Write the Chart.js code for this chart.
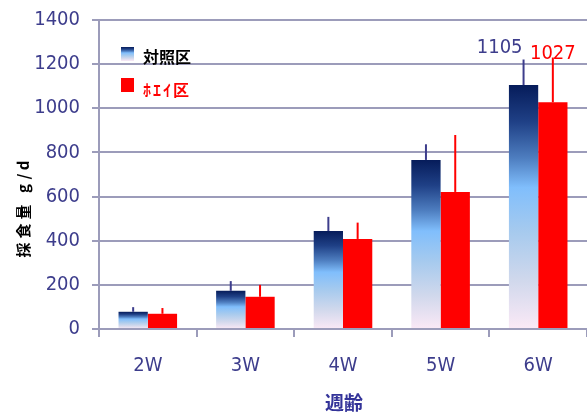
<!DOCTYPE html>
<html>
<head>
<meta charset="utf-8">
<script src="https://cdn.jsdelivr.net/npm/chart.js@4.4.0/dist/chart.umd.min.js"></script>
<style>
  html, body { margin: 0; padding: 0; background: #fff; }
  canvas { display: block; }
</style>
</head>
<body>
<canvas id="feedChart" width="587" height="414"></canvas>
<script>
// weekly feed intake (g/d), mean and SD
const weeks = ['2W', '3W', '4W', '5W', '6W'];
const controlMeans = [78, 173, 444, 766, 1105];
const controlSD = [21, 44, 64, 71, 116];
const wheyMeans = [69, 146, 408, 621, 1027];
const wheySD = [26, 54, 74, 258, 203];
const yTicks = [0, 200, 400, 600, 800, 1000, 1200, 1400];
const seriesNames = ['対照区', 'ﾎｴｲ区'];
const yTitle = '採食量 g/d';
const xTitle = '週齢';

const navy = '#3d3d8c';
const red = '#ff0000';
const gridColor = '#9c9cba';
const numFont = 'Tahoma, "DejaVu Sans Condensed", "DejaVu Sans", sans-serif';
const jpFont = '"Noto Sans CJK JP", sans-serif';

function blueGradient(ctx, top, bottom) {
  const g = ctx.createLinearGradient(0, top, 0, bottom);
  g.addColorStop(0, '#061c5a');
  g.addColorStop(0.15, '#1f4086');
  g.addColorStop(0.3, '#4e7ec0');
  g.addColorStop(0.42, '#80befc');
  g.addColorStop(0.6, '#a6caee');
  g.addColorStop(0.8, '#d0d8ec');
  g.addColorStop(1, '#fbe9f6');
  return g;
}

// error bars only go up, like the original
const errorBars = {
  id: 'errorBars',
  afterDatasetsDraw(chart) {
    const ctx = chart.ctx;
    const y = chart.scales.y;
    [[controlMeans, controlSD, navy], [wheyMeans, wheySD, red]].forEach(([means, sds, color], i) => {
      const meta = chart.getDatasetMeta(i);
      ctx.save();
      ctx.strokeStyle = color;
      ctx.lineWidth = 2;
      meta.data.forEach((bar, j) => {
        ctx.beginPath();
        ctx.moveTo(bar.x, y.getPixelForValue(means[j]));
        ctx.lineTo(bar.x, y.getPixelForValue(means[j] + sds[j]));
        ctx.stroke();
      });
      ctx.restore();
    });
  }
};

// value labels on the last week, legend box and axis titles
const extras = {
  id: 'extras',
  afterDraw(chart) {
    const ctx = chart.ctx;
    const y = chart.scales.y;
    const last = weeks.length - 1;

    ctx.save();
    ctx.font = '20px ' + numFont;
    ctx.textBaseline = 'alphabetic';
    const cBar = chart.getDatasetMeta(0).data[last];
    ctx.fillStyle = navy;
    ctx.textAlign = 'right';
    ctx.fillText(String(controlMeans[last]), cBar.x - 1, y.getPixelForValue(controlMeans[last] + controlSD[last]) - 7);
    const wBar = chart.getDatasetMeta(1).data[last];
    ctx.fillStyle = red;
    ctx.textAlign = 'center';
    ctx.fillText(String(wheyMeans[last]), wBar.x, y.getPixelForValue(wheyMeans[last] + wheySD[last]) + 1);

    // legend
    ctx.fillStyle = blueGradient(ctx, 47, 61);
    ctx.fillRect(121, 47, 13, 14);
    ctx.fillStyle = red;
    ctx.fillRect(121, 78, 13, 14);
    ctx.font = 'bold 16px ' + jpFont;
    ctx.textAlign = 'left';
    ctx.textBaseline = 'middle';
    ctx.fillStyle = '#000';
    ctx.fillText(seriesNames[0], 143, 57);
    ctx.fillStyle = red;
    ctx.letterSpacing = '2px';
    ctx.fillText(seriesNames[1], 143, 90);
    ctx.letterSpacing = '0px';

    // x title
    ctx.font = 'bold 19px ' + jpFont;
    ctx.fillStyle = '#333399';
    ctx.textAlign = 'center';
    ctx.fillText(xTitle, 344, 403);

    // y title
    ctx.translate(23, 207);
    ctx.rotate(-Math.PI / 2);
    ctx.font = 'bold 15px ' + jpFont;
    ctx.letterSpacing = '4px';
    ctx.fillStyle = '#000';
    ctx.fillText(yTitle, 0, 0);
    ctx.restore();
  }
};

new Chart(document.getElementById('feedChart'), {
  type: 'bar',
  data: {
    labels: weeks,
    datasets: [{
      label: seriesNames[0],
      data: controlMeans,
      backgroundColor: (c) => {
        const chart = c.chart;
        const y = chart.scales.y;
        if (!chart.chartArea || !y || c.dataIndex === undefined) return '#5080c0';
        return blueGradient(chart.ctx, y.getPixelForValue(controlMeans[c.dataIndex]), y.getPixelForValue(0));
      },
      borderWidth: 0
    }, {
      label: seriesNames[1],
      data: wheyMeans,
      backgroundColor: red,
      borderWidth: 0
    }]
  },
  options: {
    responsive: false,
    animation: false,
    categoryPercentage: 0.6,
    barPercentage: 1,
    layout: { padding: { top: 20, left: 0, right: 0, bottom: 0 } },
    plugins: {
      legend: { display: false },
      tooltip: { enabled: false }
    },
    scales: {
      x: {
        afterFit: (s) => { s.height = 85; s.paddingLeft = 0; s.paddingRight = 0; },
        border: { color: gridColor, width: 2 },
        grid: { drawOnChartArea: false, tickLength: 8, color: gridColor, lineWidth: 2, offset: true },
        ticks: { color: navy, font: { family: numFont, size: 20 }, padding: 17 }
      },
      y: {
        min: 0,
        max: 1400,
        afterBuildTicks: (s) => { s.ticks = yTicks.map(v => ({ value: v })); },
        afterFit: (s) => { s.width = 99; s.paddingTop = 0; s.paddingBottom = 0; },
        border: { color: gridColor, width: 2 },
        grid: { color: gridColor, lineWidth: 2, tickLength: 7 },
        ticks: { color: navy, font: { family: numFont, size: 20 }, padding: 12, callback: (v) => String(v) }
      }
    }
  },
  plugins: [errorBars, extras]
});
</script>
</body>
</html>
